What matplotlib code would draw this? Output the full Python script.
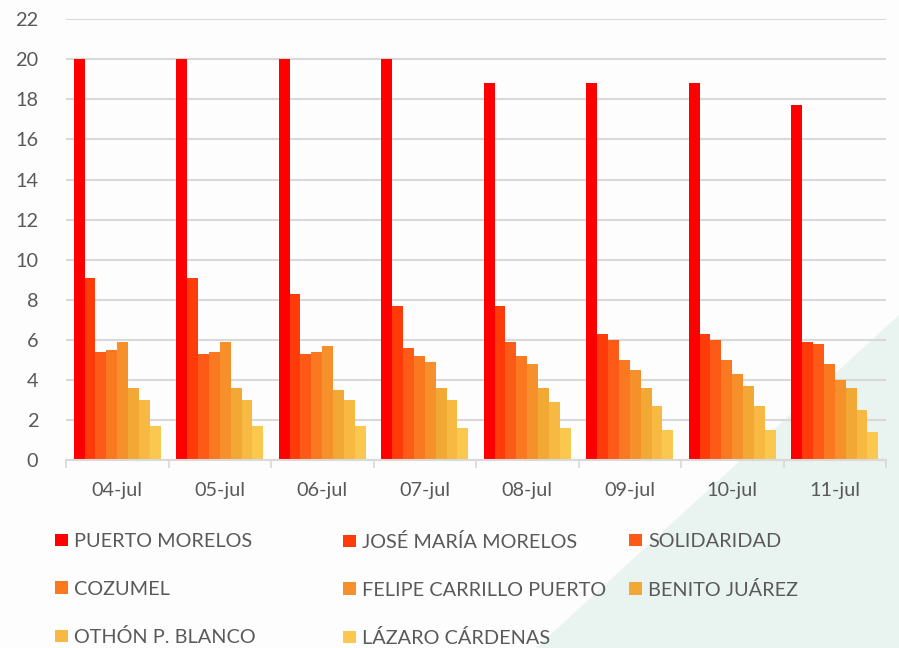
import matplotlib
matplotlib.use("Agg")
import matplotlib.pyplot as plt
import numpy as np
from matplotlib.patches import Polygon

plt.rcParams["font.family"] = ["Lato", "DejaVu Sans"]

dates = ["04-jul", "05-jul", "06-jul", "07-jul", "08-jul", "09-jul", "10-jul", "11-jul"]
municipios = [
    "PUERTO MORELOS", "JOSÉ MARÍA MORELOS", "SOLIDARIDAD", "COZUMEL",
    "FELIPE CARRILLO PUERTO", "BENITO JUÁREZ", "OTHÓN P. BLANCO", "LÁZARO CÁRDENAS",
]
puerto_morelos = [20, 20, 20, 20, 18.8, 18.8, 18.8, 17.7]
jose_maria_morelos = [9.1, 9.1, 8.3, 7.7, 7.7, 6.3, 6.3, 5.9]
solidaridad = [5.4, 5.3, 5.3, 5.6, 5.9, 6.0, 6.0, 5.8]
cozumel = [5.5, 5.4, 5.4, 5.2, 5.2, 5.0, 5.0, 4.8]
felipe_carrillo_puerto = [5.9, 5.9, 5.7, 4.9, 4.8, 4.5, 4.3, 4.0]
benito_juarez = [3.6, 3.6, 3.5, 3.6, 3.6, 3.6, 3.7, 3.6]
othon_p_blanco = [3.0, 3.0, 3.0, 3.0, 2.9, 2.7, 2.7, 2.5]
lazaro_cardenas = [1.7, 1.7, 1.7, 1.6, 1.6, 1.5, 1.5, 1.4]

series = [puerto_morelos, jose_maria_morelos, solidaridad, cozumel,
          felipe_carrillo_puerto, benito_juarez, othon_p_blanco, lazaro_cardenas]
colors = ["#FF0000", "#FF3B0A", "#FC5A16", "#F97820", "#F6902A",
          "#F1A834", "#F7B941", "#FAC84F"]

text_color = "#595959"
grid_color = "#D9D9D9"
fs = 14.3

fig = plt.figure(figsize=(8.99, 6.48), dpi=100)
fig.patch.set_facecolor("#FDFDFD")
fig.add_artist(Polygon([(536 / 899, 0), (1, 333 / 648), (1, 0)],
                       closed=True, transform=fig.transFigure,
                       facecolor="#E9F3EF", edgecolor="none", zorder=-1))

ax = fig.add_axes([66 / 899, 1 - 460 / 648, 820 / 899, (460 - 19.3) / 648])
ax.set_facecolor("none")

x = np.arange(len(dates))
n = len(series)
width = 0.85 / n
handles = []
for i, (vals, c, name) in enumerate(zip(series, colors, municipios)):
    b = ax.bar(x - 0.425 + width * (i + 0.5), vals, width=width, color=c,
               label=name, zorder=3)
    handles.append(b)

ax.set_xlim(-0.5, len(dates) - 0.5)
ax.set_ylim(0, 22)
ax.set_yticks(np.arange(0, 23, 2))
ax.set_xticks(x)
ax.set_xticklabels(dates)
ax.set_xticks(np.arange(-0.5, len(dates), 1), minor=True)
ax.tick_params(axis="x", which="major", length=0, pad=16, labelsize=fs,
               labelcolor=text_color)
ax.tick_params(axis="x", which="minor", length=6, width=1.2, color=grid_color,
               direction="out")
ax.tick_params(axis="y", length=0, pad=20, labelsize=fs, labelcolor=text_color)
ax.grid(axis="y", color=grid_color, linewidth=1.5, zorder=0)
for s in ["top", "right", "left"]:
    ax.spines[s].set_visible(False)
ax.spines["bottom"].set_color(grid_color)
ax.spines["bottom"].set_linewidth(1.5)
ax.spines["bottom"].set_zorder(4)

# three fixed-width legend columns, filled row by row
col_x = [55 / 899, 343 / 899, 629 / 899]
for col in range(3):
    idx = list(range(col, n, 3))
    leg = fig.legend([handles[i] for i in idx], [municipios[i] for i in idx],
                     loc="upper left", bbox_to_anchor=(col_x[col], 1 - 533 / 648),
                     frameon=False, fontsize=fs, handlelength=0.65,
                     handleheight=0.6, handletextpad=0.3, labelspacing=1.54,
                     borderpad=0, borderaxespad=0)
    for t in leg.get_texts():
        t.set_color(text_color)

fig.savefig("out.png", dpi=100)
